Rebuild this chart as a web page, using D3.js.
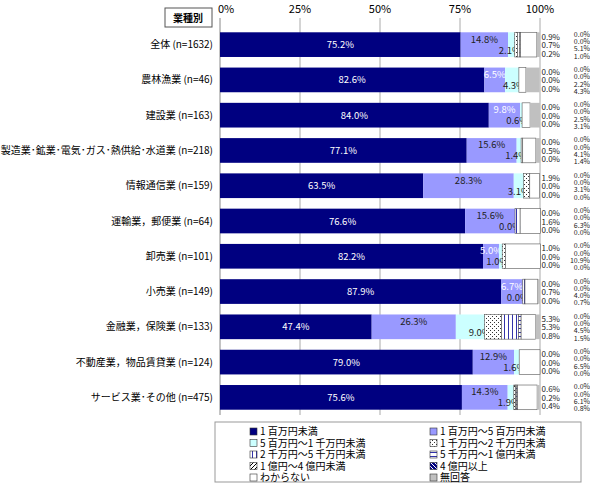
<!DOCTYPE html><html><head><meta charset="utf-8"><script src="https://cdn.jsdelivr.net/npm/d3@7"></script>
<style>body{margin:0;background:#fff;font-family:"Noto Sans CJK JP","DejaVu Sans",sans-serif}</style></head><body><svg id="c" width="590" height="486"></svg><script>
const categories=["全体 (n=1632)","農林漁業 (n=46)","建設業 (n=163)","製造業･鉱業･電気･ガス･熱供給･水道業 (n=218)","情報通信業 (n=159)","運輸業，郵便業 (n=64)","卸売業 (n=101)","小売業 (n=149)","金融業，保険業 (n=133)","不動産業，物品賃貸業 (n=124)","サービス業･その他 (n=475)"];
const seriesNames=["1 百万円未満","1 百万円～5 百万円未満","5 百万円～1 千万円未満","1 千万円～2 千万円未満","2 千万円～5 千万円未満","5 千万円～1 億円未満","1 億円～4 億円未満","4 億円以上","わからない","無回答"];
const values=[
[75.2,14.8,2.1,0.9,0.7,0.2,0.0,0.0,5.1,1.0],
[82.6,6.5,4.3,0.0,0.0,0.0,0.0,0.0,2.2,4.3],
[84.0,9.8,0.6,0.0,0.0,0.0,0.0,0.0,2.5,3.1],
[77.1,15.6,1.4,0.0,0.5,0.0,0.0,0.0,4.1,1.4],
[63.5,28.3,3.1,1.9,0.0,0.0,0.0,0.0,3.1,0.0],
[76.6,15.6,0.0,0.0,1.6,0.0,0.0,0.0,6.3,0.0],
[82.2,5.0,1.0,1.0,0.0,0.0,0.0,0.0,10.9,0.0],
[87.9,6.7,0.0,0.0,0.7,0.0,0.0,0.0,4.0,0.7],
[47.4,26.3,9.0,5.3,5.3,0.8,0.0,0.0,4.5,1.5],
[79.0,12.9,1.6,0.0,0.0,0.0,0.0,0.0,6.5,0.0],
[75.6,14.3,1.9,0.6,0.2,0.4,0.0,0.0,6.1,0.8]];
const ticks=[0,25,50,75,100];
const svg=d3.select("#c");
const defs=svg.append("defs");
function pat(id,draw,bg="#fff"){const p=defs.append("pattern").attr("id",id).attr("patternUnits","userSpaceOnUse").attr("width",4).attr("height",4);p.append("rect").attr("width",4).attr("height",4).attr("fill",bg);draw(p);}
pat("p3",p=>{p.append("rect").attr("x",0).attr("y",0).attr("width",1).attr("height",1).attr("fill","#333");p.append("rect").attr("x",2).attr("y",2).attr("width",1).attr("height",1).attr("fill","#333");});
pat("p4",p=>{p.append("rect").attr("x",0).attr("width",1).attr("height",4).attr("fill","#3333aa");});
pat("p5",p=>{p.append("rect").attr("y",0).attr("width",4).attr("height",1).attr("fill","#3333aa");});
pat("p6",p=>{p.append("path").attr("d","M0,4L4,0").attr("stroke","#000").attr("stroke-width",1);});
pat("p7",p=>{p.append("path").attr("d","M0,0L4,4").attr("stroke","#fff").attr("stroke-width",1);},"#000080");
const fills=["#000080","#9999ff","#ccffff","url(#p3)","url(#p4)","url(#p5)","url(#p6)","url(#p7)","#ffffff","#c0c0c0"];
const x=d3.scaleLinear().domain([0,100]).range([220,540]);
const y=d3.scaleBand().domain(categories).range([27,415]).paddingInner(0.3).paddingOuter(0.15);
svg.append("rect").attr("x",165).attr("y",8).attr("width",47).attr("height",19).attr("fill","#fff").attr("stroke","#555");
svg.append("text").attr("x",188).attr("y",22).attr("text-anchor","middle").attr("font-size","10px").attr("font-weight","bold").text("業種別");
ticks.forEach(t=>{svg.append("text").attr("x",x(t)+(t==0?6:0)).attr("y",13).attr("text-anchor","middle").attr("font-size","11px").text(t+"%");
 svg.append("line").attr("x1",x(t)).attr("x2",x(t)).attr("y1",18).attr("y2",415).attr("stroke",t==0?"#888":"#aaa").attr("stroke-width",1);});
categories.forEach((c,i)=>{
 const yy=y(c),h=y.bandwidth(),cy=yy+h/2;
 svg.append("text").attr("x",213).attr("y",cy+3.5).attr("text-anchor","end").attr("font-size","10px").text(c);
 let acc=0;
 values[i].forEach((v,k)=>{
  svg.append("rect").attr("x",x(acc)).attr("y",yy).attr("width",x(acc+v)-x(acc)).attr("height",h).attr("fill",fills[k]).attr("stroke",k>=3&&k<=8&&v>0?"#555":"none").attr("stroke-width",0.6);
  const s=acc; acc+=v;
  let tx,ty,anc="middle",col="#222",f="9.5px";
  if(k==0){tx=x(s+v/2);ty=cy+3.5;col="#fff";}
  else if(k==1){tx=x(s+v/2);ty=cy-2;col=v>12?"#222":"#fff";}
  else if(k==2){tx=x(s)+v*3.2+6;ty=cy+9;anc="end";}
  else if(k<=5){tx=560;ty=cy-5+(k-3)*8.5;anc="end";f="8px";}
  else{tx=590;ty=cy-8+(k-6)*7.3;anc="end";f="7px";}
  svg.append("text").attr("x",tx).attr("y",ty).attr("text-anchor",anc).attr("font-size",f).attr("fill",col).text(v.toFixed(1)+"%");
 });
});
svg.append("rect").attr("x",215).attr("y",422).attr("width",366).attr("height",60).attr("fill","#fff").attr("stroke","#999");
seriesNames.forEach((n,k)=>{
 const lx=k%2==0?250:430, ly=429+Math.floor(k/2)*11.5;
 svg.append("rect").attr("x",lx).attr("y",ly-1).attr("width",7).attr("height",7).attr("fill",fills[k]).attr("stroke","#333").attr("stroke-width",0.6);
 svg.append("text").attr("x",lx+10).attr("y",ly+6).attr("font-size","10px").text(n);
});
</script></body></html>
